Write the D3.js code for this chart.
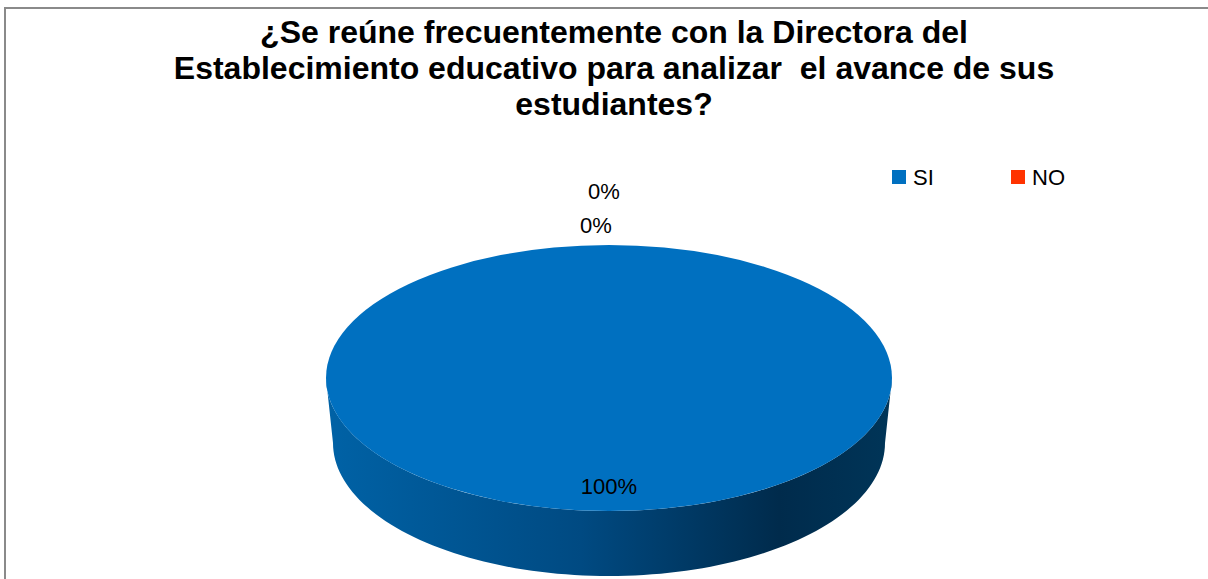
<!DOCTYPE html>
<html>
<head>
<meta charset="utf-8">
<script src="https://cdn.jsdelivr.net/npm/d3@7"></script>
<style>
  body { margin: 0; background: #fff; }
  svg { display: block; }
</style>
</head>
<body>
<div id="chart"></div>
<script>
// datos del grafico
const titleLines = [
  "¿Se reúne frecuentemente con la Directora del",
  "Establecimiento educativo para analizar  el avance de sus",
  "estudiantes?"
];
const categories = ["SI", "NO", ""];
const values = [100, 0, 0];
const colors = ["#0070C0", "#FF3300", "#A5A5A5"];

const width = 1208;
const height = 579;

// geometria del pastel 3D
const cx = 609, cy = 378;
const rx = 283, ry = 133;
const depth = 65, shrink = 7;

// desplazamiento de etiquetas de rebanadas vacias (apiladas arriba)
const emptyLabelShift = [[-13, -12], [-5, -46]];

const svg = d3.select("#chart").append("svg")
    .attr("width", width)
    .attr("height", height);

// borde del area del grafico
svg.append("rect")
    .attr("x", 5)
    .attr("y", 8)
    .attr("width", width + 20)
    .attr("height", height + 20)
    .attr("fill", "#fff")
    .attr("stroke", "#8a8a8a")
    .attr("stroke-width", 2);

// titulo
svg.append("text")
    .attr("font-family", "'Liberation Sans', Arial, sans-serif")
    .attr("font-weight", "bold")
    .attr("font-size", 32)
    .attr("text-anchor", "middle")
    .style("white-space", "pre")
    .selectAll("tspan")
    .data(titleLines)
    .enter().append("tspan")
    .attr("x", 614)
    .attr("y", function(d, i) { return 43 + i * 36; })
    .text(function(d) { return d; });

const defs = svg.append("defs");
const grad = defs.append("linearGradient")
    .attr("id", "side")
    .attr("x1", "0%").attr("x2", "100%")
    .attr("y1", "0%").attr("y2", "0%");
[["0%", "#0062A6"], ["45%", "#004A82"], ["80%", "#002B4C"], ["100%", "#003558"]]
  .forEach(function(s) {
    grad.append("stop").attr("offset", s[0]).attr("stop-color", s[1]);
  });

const pie = d3.pie().sort(null).startAngle(0).endAngle(2 * Math.PI);
const arcs = pie(values);

// punto sobre la elipse (angulo 0 = arriba, sentido horario)
function pt(a, rX, rY, yOff) {
  return [cx + Math.sin(a) * rX, cy + yOff - Math.cos(a) * rY];
}

// caras laterales (solo la mitad frontal)
const sideLine = d3.line();
arcs.forEach(function(d, i) {
  const a0 = Math.max(d.startAngle, Math.PI / 2);
  const a1 = Math.min(d.endAngle, 3 * Math.PI / 2);
  if (a1 <= a0) return;
  const top = d3.range(0, 101).map(function(k) {
    return pt(a0 + (a1 - a0) * k / 100, rx, ry, 0);
  });
  const bot = d3.range(100, -1, -1).map(function(k) {
    return pt(a0 + (a1 - a0) * k / 100, rx - shrink, ry, depth);
  });
  svg.append("path")
      .attr("d", sideLine(top.concat(bot)) + "Z")
      .attr("fill", i === 0 ? "url(#side)" : d3.color(colors[i]).darker(1));
});

// cara superior
const arc = d3.arc().innerRadius(0).outerRadius(rx);
svg.append("g")
    .attr("transform", "translate(" + cx + "," + cy + ") scale(1," + (ry / rx) + ")")
    .selectAll("path")
    .data(arcs)
    .enter().append("path")
    .attr("d", arc)
    .attr("fill", function(d, i) { return colors[i]; });

// etiquetas de porcentaje
const total = d3.sum(values);
const labelFont = "'Liberation Sans', Arial, sans-serif";
let nEmpty = 0;
arcs.forEach(function(d) {
  const pct = Math.round(d.value / total * 100) + "%";
  const mid = (d.startAngle + d.endAngle) / 2;
  let p;
  if (d.value > 0) {
    p = pt(mid, rx * 0.81, ry * 0.81, 0);
    p[1] += 8;
  } else {
    const s = emptyLabelShift[nEmpty++];
    p = pt(mid, rx, ry, 0);
    p = [p[0] + s[0], p[1] + s[1]];
  }
  svg.append("text")
      .attr("x", p[0])
      .attr("y", p[1])
      .attr("text-anchor", "middle")
      .attr("font-family", labelFont)
      .attr("font-size", 22)
      .attr("fill", "#000")
      .text(pct);
});

// leyenda
const legendItems = categories.filter(function(c) { return c !== ""; });
const legend = svg.append("g")
    .selectAll("g")
    .data(legendItems)
    .enter().append("g")
    .attr("transform", function(d, i) { return "translate(" + (892 + i * 119) + ",170)"; });

legend.append("rect")
    .attr("width", 14)
    .attr("height", 14)
    .attr("fill", function(d, i) { return colors[i]; });

legend.append("text")
    .attr("x", 21)
    .attr("y", 15)
    .attr("font-family", labelFont)
    .attr("font-size", 22)
    .text(function(d) { return d; });
</script>
</body>
</html>
